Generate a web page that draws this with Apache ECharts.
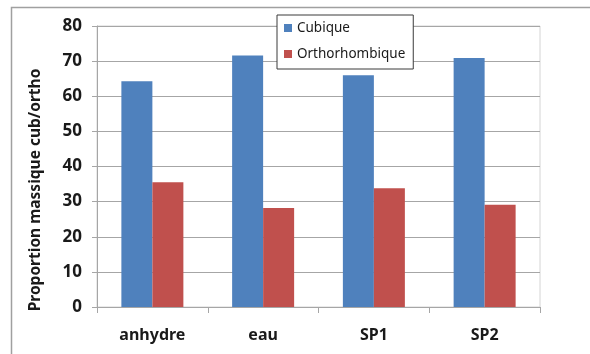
<!DOCTYPE html>
<html>
<head>
<meta charset="utf-8">
<script src="https://cdn.jsdelivr.net/npm/echarts@6/dist/echarts.min.js"></script>
<style>
  html, body { margin: 0; padding: 0; background: #ffffff; }
  #chart { width: 590px; height: 354px; }
</style>
</head>
<body>
<div id="chart"></div>
<script>
// Mass proportion of cubic vs orthorhombic phase per sample
const categories = ['anhydre', 'eau', 'SP1', 'SP2'];
const cubique = [64.3, 71.6, 66.0, 70.9];
const orthorhombique = [35.5, 28.2, 33.8, 29.1];
const yTicks = { min: 0, max: 80, step: 10 };
const yTitle = 'Proportion massique cub/ortho';

const gridColor = '#a6a6a6';
const fontFamily = '"Noto Sans", "Open Sans", sans-serif';

const chart = echarts.init(document.getElementById('chart'), null, { renderer: 'canvas' });

chart.setOption({
  animation: false,
  backgroundColor: '#ffffff',
  graphic: [
    // outer chart frame (top and left edges visible)
    {
      type: 'polyline',
      silent: true,
      shape: { points: [[11.5, 360], [11.5, 7.5], [600, 7.5]] },
      style: { stroke: '#a0a0a0', lineWidth: 1.5, fill: null }
    },
    // vertical axis title
    {
      type: 'text',
      silent: true,
      x: 36, y: 190,
      rotation: Math.PI / 2,
      style: {
        text: yTitle,
        align: 'center',
        verticalAlign: 'middle',
        fontFamily: fontFamily,
        fontSize: 15.5,
        fontWeight: 'bold',
        fill: '#1a1a1a'
      }
    }
  ],
  grid: {
    left: 97, right: 50, top: 26, bottom: 47,
    containLabel: false,
    show: true,
    borderColor: '#d4d4d4',
    borderWidth: 1
  },
  legend: {
    orient: 'vertical',
    left: 277, top: 15,
    icon: 'rect',
    itemWidth: 8, itemHeight: 8,
    itemGap: 12,
    padding: [6, 8, 8, 7],
    borderColor: '#3a3a3a',
    borderWidth: 1,
    backgroundColor: '#ffffff',
    textStyle: { fontFamily: fontFamily, fontSize: 13.5, color: '#1a1a1a', lineHeight: 14 },
    data: ['Cubique', 'Orthorhombique']
  },
  xAxis: {
    type: 'category',
    data: categories,
    axisLine: { show: true, lineStyle: { color: gridColor, width: 1 } },
    axisTick: { show: true, length: 6, lineStyle: { color: gridColor } },
    axisLabel: {
      margin: 20,
      fontFamily: fontFamily, fontSize: 16, fontWeight: 'bold', color: '#1a1a1a'
    },
    splitLine: { show: false }
  },
  yAxis: {
    type: 'value',
    min: yTicks.min, max: yTicks.max, interval: yTicks.step,
    axisLine: { show: true, lineStyle: { color: gridColor, width: 1 } },
    axisTick: { show: true, length: 5, lineStyle: { color: gridColor } },
    axisLabel: {
      margin: 15,
      fontFamily: fontFamily, fontSize: 17, fontWeight: 'bold', color: '#1a1a1a'
    },
    splitLine: { show: true, lineStyle: { color: gridColor, width: 1 } }
  },
  series: [
    {
      name: 'Cubique',
      type: 'bar',
      data: cubique,
      barWidth: 31,
      barGap: '0%',
      itemStyle: { color: '#4f81bd' }
    },
    {
      name: 'Orthorhombique',
      type: 'bar',
      data: orthorhombique,
      barWidth: 31,
      barGap: '0%',
      itemStyle: { color: '#c0504d' }
    }
  ]
});
</script>
</body>
</html>
